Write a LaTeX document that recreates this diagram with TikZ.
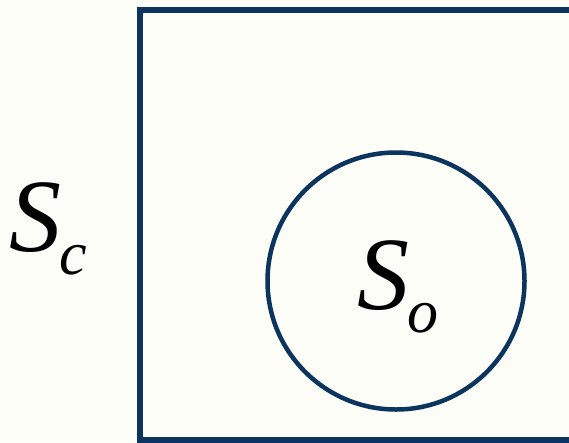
\documentclass[tikz,border=0pt]{standalone}
\usepackage{fontspec}
\setmainfont{Liberation Serif}
\definecolor{bgc}{HTML}{FCFDF6}
\definecolor{navy}{HTML}{0B355E}
\tikzset{
  outline/.style={draw=navy, line width=6pt},
  lbl/.style={inner sep=0pt, anchor=base west, text=black},
}
\newcommand{\bigS}[1]{{\fontsize{104}{104}\selectfont\itshape S}\kern-2pt\raisebox{-23pt}{\fontsize{62}{62}\selectfont\itshape #1}}
\begin{document}
\begin{tikzpicture}[x=1pt,y=-1pt]
  \fill[bgc] (0,0) rectangle (569,442);
  \clip (0,0) rectangle (569,442);
  \useasboundingbox (0,0) rectangle (569,442);
  \draw[outline] (140,10) rectangle (620,440);
  \node[outline, line width=4.5pt, circle, minimum size=257pt, inner sep=0pt] (so) at (396,281) {};
  \node[lbl] (sclabel) at (9,251) {\bigS{c}};
  \node[lbl] (solabel) at (357,309) {\bigS{o}};
\end{tikzpicture}
\end{document}
